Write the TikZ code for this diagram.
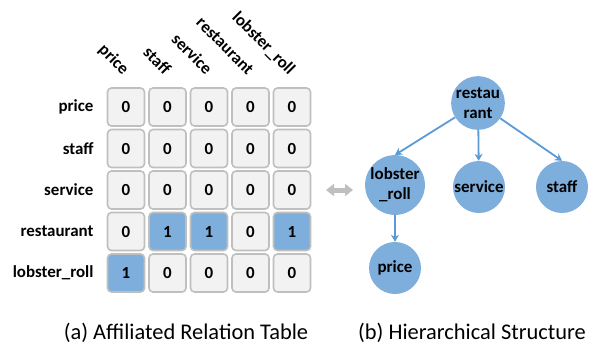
\documentclass[tikz,border=0pt]{standalone}
\usepackage{fontspec}
\setmainfont{Carlito}
\usetikzlibrary{arrows.meta}
\definecolor{cellgray}{HTML}{F2F2F2}
\definecolor{cellline}{HTML}{BFBFBF}
\definecolor{cellblue}{HTML}{7DAEDC}
\definecolor{linkblue}{HTML}{5B9BD5}
\begin{document}
\begin{tikzpicture}[x=1bp,y=-1bp]
\tikzset{
  cell/.style={draw=cellline,line width=1.6bp,rounded corners=4bp,fill=cellgray,
    minimum width=37bp,minimum height=38bp,inner sep=0pt,
    font=\fontsize{17}{20}\selectfont\bfseries},
  hit/.style={cell,fill=cellblue},
  rowlabel/.style={anchor=east,font=\fontsize{17}{20}\selectfont\bfseries},
  collabel/.style={anchor=base east,rotate=-45,font=\fontsize{17}{20}\selectfont\bfseries},
  tnode/.style={circle,fill=cellblue,minimum size=52bp,inner sep=0pt,align=center,
    font=\fontsize{17}{20}\selectfont\bfseries},
  link/.style={draw=linkblue,line width=1.8bp,-{Stealth[length=7bp,width=8bp]}},
  caption/.style={font=\fontsize{22.5}{26}\selectfont},
}
\useasboundingbox (0,0) rectangle (589,347);
% table
\foreach \r/\name in {1/price,2/staff,3/service,4/restaurant,5/lobster\_roll}{
  \node[rowlabel] (row-\r) at (97,{107+41.5*(\r-1)}) {\name};
}
\foreach \c/\name in {1/price,2/staff,3/service,4/restaurant,5/lobster\_roll}{
  \node[collabel] (col-\c) at ({125+41.5*(\c-1)},78) {\name};
}
\foreach \r/\vals in {1/{0,0,0,0,0},2/{0,0,0,0,0},3/{0,0,0,0,0},4/{0,1,1,0,1},5/{1,0,0,0,0}}{
  \foreach \v [count=\c] in \vals{
    \ifnum\v=1
      \node[hit] (cell-\r-\c) at ({126+41.5*(\c-1)},{107+41.5*(\r-1)}) {\v};
    \else
      \node[cell] (cell-\r-\c) at ({126+41.5*(\c-1)},{107+41.5*(\r-1)}) {\v};
    \fi
  }
}
% double arrow
\coordinate (swap-l) at (326,190);
\coordinate (swap-r) at (353,190);
\draw[cellline,line width=5bp,{Triangle[length=8bp,width=12bp]}-{Triangle[length=8bp,width=12bp]}] (swap-l) -- (swap-r);
% tree
\node[tnode] (restaurant) at (478,103) {restau\\rant};
\node[tnode] (lobster) at (395,185) {lobster\\\_roll};
\node[tnode] (service) at (479,187) {service};
\node[tnode] (staff) at (562,187) {staff};
\node[tnode] (price) at (395,268) {price};
\draw[link] (restaurant) -- (lobster.north);
\draw[link] (restaurant) -- (service);
\draw[link] (restaurant) -- (staff.north);
\draw[link] (lobster) -- (price);
% captions
\node[caption] (cap-a) at (186,333) {(a) Affiliated Relation Table};
\node[caption] (cap-b) at (472,333) {(b) Hierarchical Structure};
\end{tikzpicture}
\end{document}
